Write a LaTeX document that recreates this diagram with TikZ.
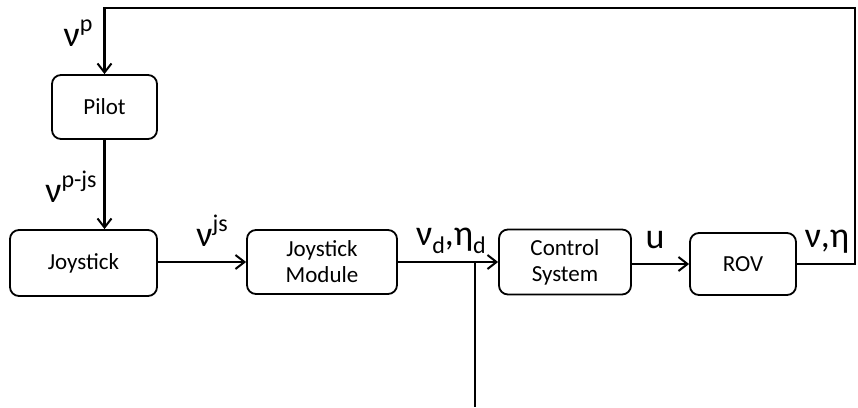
\documentclass[tikz,border=0pt]{standalone}
\usepackage{fontspec}
\setmainfont{Carlito}
\usetikzlibrary{arrows.meta}
\newcommand{\sps}[1]{\raisebox{0.42em}{\fontsize{24}{26}\selectfont #1}}
\newcommand{\sbs}[1]{\raisebox{-0.22em}{\fontsize{24}{26}\selectfont #1}}

\begin{document}
\begin{tikzpicture}[x=1pt, y=-1pt,
	blk/.style={draw, line width=1.8pt, rounded corners=9pt, align=center, inner sep=0pt,
		font=\fontsize{23}{26}\selectfont},
	sig/.style={line width=2.2pt, -{Straight Barb[length=9pt,width=14pt,line width=2pt]}},
	lbl/.style={inner sep=0pt, font=\fontsize{36}{40}\selectfont}]
	\useasboundingbox (0,0) rectangle (858,407);
	% blocks
	\node[blk, minimum width=105pt, minimum height=64pt] (pilot) at (104.5,107){Pilot};
	\node[blk, minimum width=147pt, minimum height=66pt] (joy) at (83.5,263){Joystick};
	\node[blk, minimum width=150pt, minimum height=64pt] (jsm) at (322,262){Joystick\\Module};
	\node[blk, minimum width=132pt, minimum height=65pt] (ctrl) at (565,262){Control\\System};
	\node[blk, minimum width=106pt, minimum height=62pt] (rov) at (743,264){ROV};
	% free ends
	\coordinate (fb) at (855,8);
	\coordinate (br) at (475,262);
	\coordinate (out) at (475,407);
	% signals
	\draw[sig] (pilot.south) -- (pilot.south |- joy.north);
	\draw[sig] (joy.east |- jsm.west) -- (jsm.west);
	\draw[sig] (jsm.east) -- (ctrl.west);
	\draw[sig] (ctrl.east |- rov.west) -- (rov.west);
	\draw[sig] (rov.east) -| (fb) -| (pilot.north);
	\draw[line width=2.2pt] (br) -- (out);
	% labels
	\node[lbl] (vp) at (78,33){ν\sps{p}};
	\node[lbl] (vpjs) at (71,187){ν\sps{p-js}};
	\node[lbl] (vjs) at (212,231){ν\sps{js}};
	\node[lbl] (vd) at (451,241){ν\sbs{d},η\sbs{d}};
	\node[lbl] (u) at (655,240){u};
	\node[lbl] (veta) at (827,242){ν,η};
\end{tikzpicture}
\end{document}
